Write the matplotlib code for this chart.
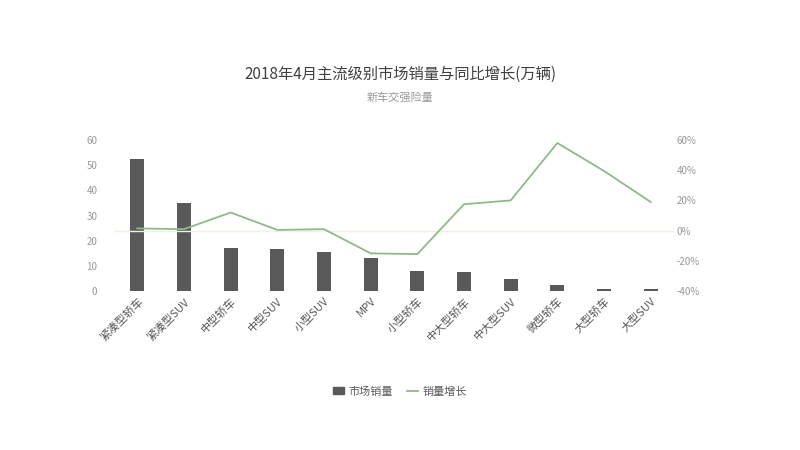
import matplotlib
matplotlib.use("Agg")
import matplotlib.pyplot as plt
from matplotlib.ticker import FuncFormatter
from matplotlib import font_manager as fm

names = {f.name for f in fm.fontManager.ttflist}
cjk = [n for n in ["Noto Sans CJK SC", "Noto Sans CJK JP", "Noto Sans CJK TC", "Noto Sans CJK KR"] if n in names]
plt.rcParams["font.family"] = "sans-serif"
plt.rcParams["font.sans-serif"] = cjk + ["DejaVu Sans"]

categories = ["紧凑型轿车", "紧凑型SUV", "中型轿车", "中型SUV", "小型SUV", "MPV",
              "小型轿车", "中大型轿车", "中大型SUV", "微型轿车", "大型轿车", "大型SUV"]
sales = [52.5, 34.8, 17.2, 16.6, 15.4, 13.2, 8.0, 7.5, 4.8, 2.3, 0.8, 0.8]
growth = [1.5, 1.0, 12.0, 0.5, 1.0, -15.0, -15.5, 17.5, 20.0, 58.0, 39.5, 19.0]

fig = plt.figure(figsize=(8, 4.5), dpi=100)
ax = fig.add_axes([0.1425, 0.353, 0.70, 0.336])
x = range(len(categories))
ax.bar(x, sales, width=0.3, color="#595959", zorder=2)
ax.set_ylim(0, 60)
ax.set_yticks(range(0, 61, 10))
ax.set_xlim(-0.5, len(categories) - 0.5)
ax.set_xticks(list(x))
ax.set_xticklabels(categories, rotation=45, ha="right", rotation_mode="anchor",
                   fontsize=8, color="#595959")
ax.tick_params(axis="y", labelsize=7, colors="#999999", length=0, pad=12)
ax.tick_params(axis="x", length=0)
for s in ax.spines.values():
    s.set_visible(False)

ax2 = ax.twinx()
ax2.plot(list(x), growth, color="#8fb98a", lw=1.3)
ax2.axhline(0, color="#eef3dc", lw=1, zorder=0)
ax2.set_ylim(-40, 60)
ax2.set_yticks(range(-40, 61, 20))
ax2.yaxis.set_major_formatter(FuncFormatter(lambda v, p: f"{int(v)}%"))
ax2.tick_params(axis="y", labelsize=7, colors="#999999", length=0, pad=2)
for s in ax2.spines.values():
    s.set_visible(False)

fig.text(0.5, 0.825, "2018年4月主流级别市场销量与同比增长(万辆)", ha="center",
         fontsize=11, color="#404040")
fig.text(0.5, 0.775, "新车交强险量", ha="center", fontsize=8, color="#999999")

from matplotlib.patches import Patch
from matplotlib.lines import Line2D
handles = [Patch(color="#595959"), Line2D([], [], color="#8fb98a", lw=1.3)]
fig.legend(handles, ["市场销量", "销量增长"], loc="center", bbox_to_anchor=(0.5, 0.13),
           ncol=2, frameon=False, fontsize=8, labelcolor="#595959",
           handlelength=1.0, handleheight=0.6, columnspacing=1.2, handletextpad=0.4)
fig.savefig("out.png", dpi=100)
